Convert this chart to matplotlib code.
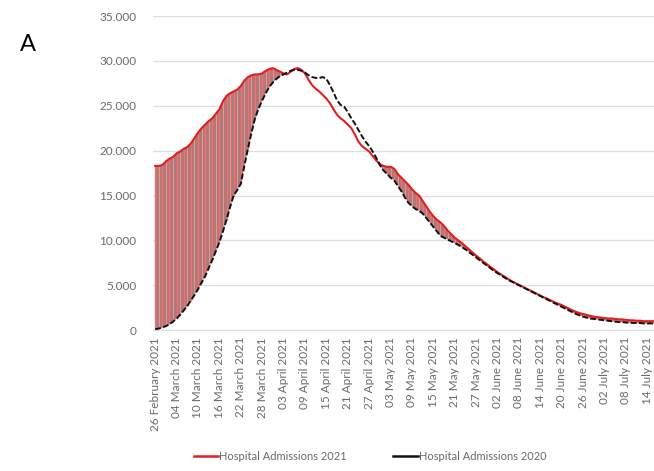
import matplotlib
matplotlib.use("Agg")
import matplotlib.pyplot as plt
import numpy as np
from matplotlib.lines import Line2D

# daily hospital admissions, starting 26 February
admissions_2021 = [
    18300, 18300, 18400, 18800, 19100, 19300, 19700, 19900, 20200, 20400,
    20800, 21400, 22000, 22500, 22900, 23300, 23600, 24100, 24600, 25500,
    26100, 26400, 26600, 26800, 27200, 27800, 28200, 28400, 28500, 28500,
    28600, 28900, 29100, 29200, 29000, 28800, 28600, 28500, 28800, 29100,
    29200, 29000, 28600, 27900, 27300, 26900, 26600, 26200, 25800, 25300,
    24600, 24000, 23600, 23300, 22900, 22500, 21800, 21000, 20500, 20200,
    19900, 19400, 18900, 18500, 18300, 18200, 18200, 18000, 17400, 17000,
    16600, 16200, 15700, 15300, 15000, 14400, 13800, 13200, 12700, 12300,
    12000, 11600, 11100, 10700, 10300, 10000, 9700, 9350, 9000, 8650,
    8300, 8000, 7650, 7350, 7050, 6750, 6450, 6200, 5950, 5700,
    5450, 5250, 5050, 4850, 4650, 4450, 4250, 4050, 3850, 3650,
    3500, 3300, 3100, 2950, 2800, 2600, 2400, 2200, 2050, 1900,
    1800, 1700, 1600, 1500, 1450, 1400, 1350, 1300, 1300, 1250,
    1200, 1200, 1150, 1100, 1100, 1050, 1050, 1000, 1000, 1000,
    1000,
]
admissions_2020 = [
    100, 180, 300, 450, 650, 950, 1300, 1700, 2200, 2700,
    3300, 3900, 4550, 5300, 6000, 6900, 7800, 8800, 9800, 11000,
    12300, 13700, 15000, 15600, 16300, 18300, 20200, 22000, 23600, 24700,
    25600, 26400, 27100, 27600, 28000, 28300, 28500, 28700, 28900, 29000,
    29000, 28900, 28700, 28400, 28200, 28100, 28100, 28200, 28000, 27300,
    26500, 25600, 25100, 24900, 24300, 23600, 23000, 22300, 21600, 21000,
    20500, 19900, 19200, 18400, 17800, 17400, 17000, 16700, 16100, 15500,
    14800, 14200, 13800, 13500, 13300, 13000, 12500, 12000, 11500, 11000,
    10500, 10300, 10100, 9900, 9700, 9500, 9250, 9000, 8700, 8400,
    8100, 7800, 7500, 7200, 6900, 6600, 6350, 6100, 5850, 5600,
    5400, 5200, 5000, 4800, 4600, 4400, 4200, 4000, 3800, 3600,
    3400, 3200, 3000, 2800, 2600, 2400, 2200, 2000, 1800, 1650,
    1500, 1400, 1300, 1250, 1200, 1150, 1100, 1050, 1000, 950,
    900, 900, 850, 850, 800, 800, 800, 750, 750, 750,
    750,
]
tick_labels = [
    "26 February 2021", "04 March 2021", "10 March 2021", "16 March 2021",
    "22 March 2021", "28 March 2021", "03 April 2021", "09 April 2021",
    "15 April 2021", "21 April 2021", "27 April 2021", "03 May 2021",
    "09 May 2021", "15 May 2021", "21 May 2021", "27 May 2021",
    "02 June 2021", "08 June 2021", "14 June 2021", "20 June 2021",
    "26 June 2021", "02 July 2021", "08 July 2021", "14 July 2021",
]
y_ticks = [0, 5000, 10000, 15000, 20000, 25000, 30000, 35000]

plt.rcParams["font.family"] = ["Lato", "DejaVu Sans"]
grey = "#6a6a6a"

y21 = np.array(admissions_2021)
y20 = np.array(admissions_2020)
days = np.arange(len(y21))

fig = plt.figure(figsize=(6.54, 4.71), dpi=100)
ax = fig.add_axes([0.234, 0.299, 0.794, 0.667])

# drop lines between the two years where 2021 is higher
above = y21 > y20
ax.fill_between(days, y20, y21, where=above, color="#b07878",
                linewidth=0, interpolate=True, zorder=1)
ax.vlines(days[above][::2], y20[above][::2], y21[above][::2],
          color="#f27070", linewidth=1.0, zorder=2)
ax.vlines(days[above][1::2], y20[above][1::2], y21[above][1::2],
          color="#e59a9a", linewidth=0.7, zorder=2)

ax.plot(days, y21, color="#e0201e", linewidth=1.5, zorder=3)
ax.plot(days, y20, color="#111111", linewidth=1.4, dashes=(3, 1.2), zorder=4)

ax.set_xlim(-0.6, 145)
ax.set_ylim(0, 35000)
ax.set_yticks(y_ticks)
ax.set_yticklabels([f"{v:,}".replace(",", ".") for v in y_ticks],
                   fontsize=8.5, color=grey)
ax.set_xticks(np.arange(0, 6 * len(tick_labels), 6))
ax.set_xticklabels(tick_labels, rotation=90, fontsize=8.5, color=grey)
ax.tick_params(axis="both", length=0)
ax.tick_params(axis="y", pad=12)
ax.tick_params(axis="x", pad=5)

ax.grid(axis="y", color="#dedede", linewidth=0.9)
ax.set_axisbelow(True)
for side in ["top", "right", "left"]:
    ax.spines[side].set_visible(False)
ax.spines["bottom"].set_color("#dedede")

fig.text(0.03, 0.905, "A", fontsize=17, color="black", va="center")

handles = [Line2D([], [], color="#e0201e", linewidth=1.8),
           Line2D([], [], color="#111111", linewidth=1.8)]
fig.legend(handles, ["Hospital Admissions 2021", "Hospital Admissions 2020"],
           loc="center", bbox_to_anchor=(0.566, 0.03), ncol=2, frameon=False,
           fontsize=8, labelcolor=grey, handlelength=2.2, handletextpad=0.1,
           columnspacing=4.2)

fig.savefig("out.png", dpi=100)
